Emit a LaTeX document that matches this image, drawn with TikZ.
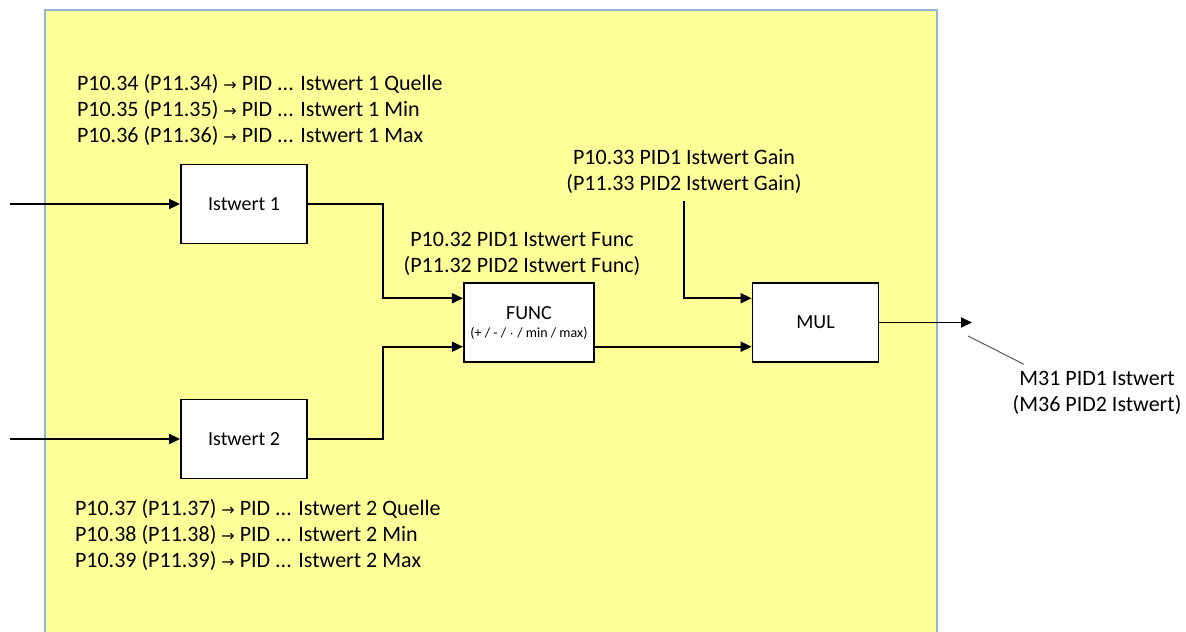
\documentclass[tikz,border=0pt]{standalone}
\usepackage{fontspec}
\setmainfont{Carlito}
\newfontfamily\arrowfont{DejaVu Sans}
\usetikzlibrary{positioning, arrows.meta, calc}
\definecolor{panelyellow}{RGB}{255,255,153}
\definecolor{panelblue}{RGB}{149,179,215}
\newcommand{\toarr}{{\arrowfont\footnotesize →}}

\begin{document}
\begin{tikzpicture}[
        x=0.5pt, y=-0.5pt,
        box/.style={draw, rectangle, minimum width=63pt, minimum height=39.5pt, align=center, fill=white, line width=0.9pt, font=\fontsize{10}{12}\selectfont},
        lbl/.style={align=left, font=\fontsize{11}{13}\selectfont},
        arr/.style={-{Triangle[length=5.5pt, width=5pt]}, line width=0.9pt}
    ]
    \useasboundingbox (0,0) rectangle (1186,631);

    % Panel
    \draw[panelblue, fill=panelyellow, line width=0.8pt] (45,10) rectangle (937,660);

    % Blocks
    \node[box] (ist1) at (244,204) {Istwert 1};
    \node[box] (ist2) at (244,439) {Istwert 2};
    \node[box] (func) at (529,322.5) {FUNC\\[-3pt]{\fontsize{7}{8}\selectfont(+ / - / $\cdot$ / min / max)}};
    \node[box] (mul) at (815.5,322.5) {MUL};

    % Parameter texts
    \node[lbl, anchor=west] (par1) at (70,110) {P10.34 (P11.34) \toarr{} PID ... Istwert 1 Quelle\\P10.35 (P11.35) \toarr{} PID ... Istwert 1 Min\\P10.36 (P11.36) \toarr{} PID ... Istwert 1 Max};
    \node[lbl, anchor=west] (par2) at (68,535) {P10.37 (P11.37) \toarr{} PID ... Istwert 2 Quelle\\P10.38 (P11.38) \toarr{} PID ... Istwert 2 Min\\P10.39 (P11.39) \toarr{} PID ... Istwert 2 Max};
    \node[lbl, align=center] (funcpar) at (522,253.5) {P10.32 PID1 Istwert Func\\(P11.32 PID2 Istwert Func)};
    \node[lbl, align=center] (gain) at (684,171.5) {P10.33 PID1 Istwert Gain\\(P11.33 PID2 Istwert Gain)};
    \node[lbl, align=center] (pv) at (1097,393) {M31 PID1 Istwert\\(M36 PID2 Istwert)};

    % Free ends
    \coordinate (in1) at (10,204);
    \coordinate (in2) at (10,439);
    \coordinate (tip) at (972,322.5);
    \coordinate (pvmark) at (968,336);

    % Signal flow
    \draw[arr] (in1) -- (ist1.west);
    \draw[arr] (in2) -- (ist2.west);
    \draw[arr] (ist1.east) -- ++(75,0) |- ($(func.north west)!0.2!(func.south west)$);
    \draw[arr] (ist2.east) -- ++(75,0) |- ($(func.north west)!0.8!(func.south west)$);
    \draw[arr] ($(func.north east)!0.8!(func.south east)$) -- ($(mul.north west)!0.8!(mul.south west)$);
    \draw[arr] (gain.south) |- ($(mul.north west)!0.2!(mul.south west)$);
    \draw[arr] (mul.east) -- (tip);
    \draw[gray!70!black, line width=0.5pt] (pvmark) -- ($(pv.north)!0.8!(pv.north west)$);

\end{tikzpicture}
\end{document}
